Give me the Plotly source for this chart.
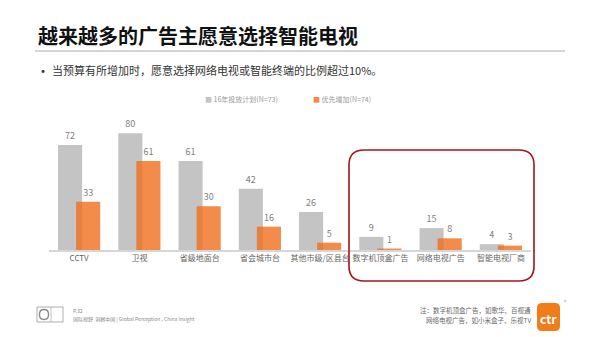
import plotly.graph_objects as go

categories = ["CCTV", "卫视", "省级地面台", "省会城市台", "其他市级/区县台",
              "数字机顶盒广告", "网络电视广告", "智能电视厂商"]
plan_2016 = [72, 80, 61, 42, 26, 9, 15, 4]
priority_increase = [33, 61, 30, 16, 5, 1, 8, 3]
series_names = ["16年投放计划(N=73)", "优先增加(N=74)"]

W, H = 600, 337
L, R, T, B = 49, 69, 104, 87
PW, PH = W - L - R, H - T - B
YMAX = 100

def px(x):
    return (x - L) / PW

def py(y):
    return (H - B - y) / PH

FONT = "Noto Sans CJK SC, Noto Sans, sans-serif"
GREY = "#C4C4C4"
ORANGE = "rgba(240,110,30,0.80)"

fig = go.Figure()
fig.add_trace(go.Bar(
    x=categories, y=plan_2016, name=series_names[0],
    marker=dict(color=GREY, line=dict(width=0)),
    offset=-0.35, width=0.4,
    text=plan_2016, textposition="outside",
    textfont=dict(size=9, color="#808080", family=FONT),
    cliponaxis=False, showlegend=False,
))
fig.add_trace(go.Bar(
    x=categories, y=priority_increase, name=series_names[1],
    marker=dict(color=ORANGE, line=dict(width=0)),
    offset=-0.05, width=0.4,
    text=priority_increase, textposition="outside",
    textfont=dict(size=9, color="#808080", family=FONT),
    cliponaxis=False, showlegend=False,
))

def rounded_rect(x0, y0, x1, y1, r):
    def P(x, y):
        return f"{px(x):.5f},{py(y):.5f}"
    return (f"M {P(x0 + r, y0)} L {P(x1 - r, y0)} Q {P(x1, y0)} {P(x1, y0 + r)} "
            f"L {P(x1, y1 - r)} Q {P(x1, y1)} {P(x1 - r, y1)} "
            f"L {P(x0 + r, y1)} Q {P(x0, y1)} {P(x0, y1 - r)} "
            f"L {P(x0, y0 + r)} Q {P(x0, y0)} {P(x0 + r, y0)} Z")

shapes = [
    dict(type="line", xref="paper", yref="paper", x0=px(35), x1=px(565),
         y0=py(51), y1=py(51), line=dict(color="#ABABAB", width=1)),
    dict(type="path", xref="paper", yref="paper",
         path=rounded_rect(349, 150, 534, 281, 15),
         line=dict(color="#A5161C", width=1.6)),
    dict(type="rect", xref="paper", yref="paper", x0=px(37), x1=px(63),
         y0=py(307), y1=py(322), line=dict(color="#9A9A9A", width=0.8)),
    dict(type="line", xref="paper", yref="paper", x0=px(51), x1=px(51),
         y0=py(307), y1=py(322), line=dict(color="#9A9A9A", width=0.6)),
    dict(type="path", xref="paper", yref="paper",
         path=rounded_rect(39.5, 309.5, 48.5, 319.5, 4.5),
         line=dict(color="#8A8A8A", width=1.4)),
    dict(type="path", xref="paper", yref="paper",
         path=rounded_rect(537, 303, 560, 331, 5),
         fillcolor="#F07D1A", line=dict(width=0)),
]

def ann(text, x, y, size, color="#333", xanchor="left", yanchor="middle", **kw):
    return dict(text=text, xref="paper", yref="paper", x=px(x), y=py(y),
                xanchor=xanchor, yanchor=yanchor, showarrow=False,
                font=dict(size=size, color=color, family=FONT), **kw)

annotations = [
    ann("<b>越来越多的广告主愿意选择智能电视</b>", 36, 36, 20, "#111111"),
    ann("•", 34, 70, 14, "#333333"),
    ann("当预算有所增加时，愿意选择网络电视或智能终端的比例超过10%。", 50, 70, 11, "#333333"),
    ann(f"<span style='color:{GREY}'>■</span> {series_names[0]}", 203, 99, 7, "#9A9A9A"),
    ann(f"<span style='color:#F58A48'>■</span> {series_names[1]}", 311, 99, 7, "#9A9A9A"),
    ann("P.32", 71, 310, 5, "#888888"),
    ann("国际视野  洞察中国 | Global Perception , China Insight", 71, 319, 5, "#8A8A8A"),
    ann("注：数字机顶盒广告，如歌华、百视通", 533, 310, 6.5, "#666666", xanchor="right"),
    ann("网络电视广告，如小米盒子、乐视TV", 533, 320, 6.5, "#666666", xanchor="right"),
    ann("<b>ctr</b>", 548.5, 318, 12, "#FFFFFF", xanchor="center"),
    ann("®", 562, 301, 5, "#999999"),
]

fig.update_layout(
    width=W, height=H,
    margin=dict(l=L, r=R, t=T, b=B, pad=0),
    paper_bgcolor="white", plot_bgcolor="white",
    barmode="overlay",
    showlegend=False,
    font=dict(family=FONT, size=9, color="#666666"),
    xaxis=dict(
        type="category", range=[-0.5, len(categories) - 0.5],
        showline=True, linecolor="#D6D6D6", linewidth=1.5,
        ticks="", showgrid=False, zeroline=False, tickangle=0,
        tickfont=dict(size=8, color="#666666", family=FONT),
    ),
    yaxis=dict(range=[0, YMAX], visible=False, showgrid=False, zeroline=False),
    shapes=shapes,
    annotations=annotations,
)

fig.write_html("out.html")
